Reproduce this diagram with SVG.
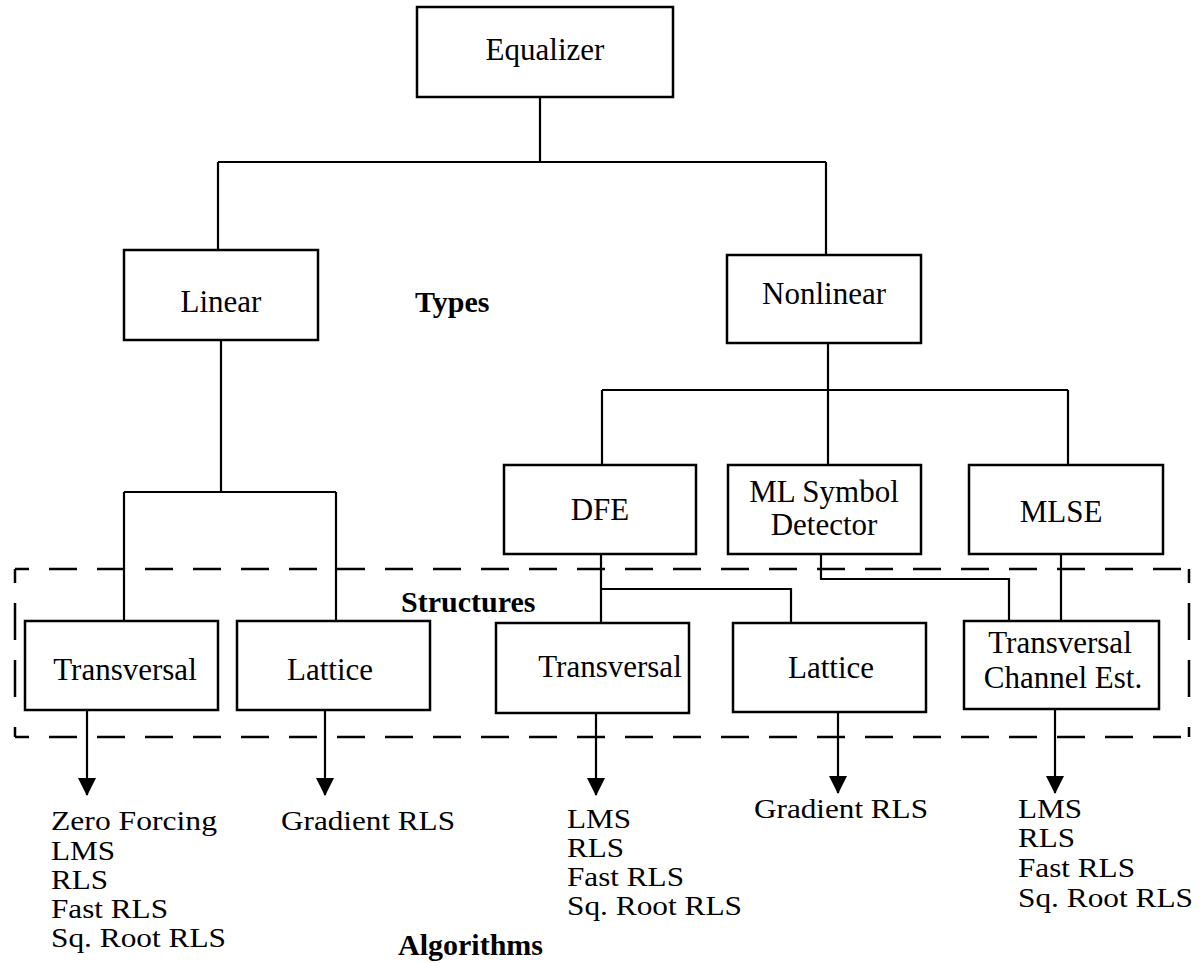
<svg xmlns="http://www.w3.org/2000/svg" width="1202" height="963" viewBox="0 0 1202 963">
<defs>
<style>
.box{fill:#fff;stroke:#000;stroke-width:2.5}
.ln{fill:none;stroke:#000;stroke-width:2.2}
.dash{fill:none;stroke:#000;stroke-width:2.5}
text{font-family:"Liberation Serif","Times New Roman",serif;font-size:31px;fill:#000}
.c{text-anchor:middle}
.b{font-weight:bold;font-size:30px}
.a{font-size:27px}
</style>
<marker id="arr" markerUnits="userSpaceOnUse" markerWidth="18" markerHeight="18" viewBox="0 0 18 18" refX="17" refY="9" orient="auto">
<path d="M0,0 L18,9 L0,18 Z" fill="#000"/>
</marker>
</defs>
<rect width="1202" height="963" fill="#fff"/>
<g id="connectors">
<path class="ln" d="M540,97 V162 M218,162 H826 M218,162 V250 M826,162 V255"/>
<path class="ln" d="M221,340 V492 M124,492 H336 M124,492 V621 M336,492 V621"/>
<path class="ln" d="M828,343 V465 M602,390 H1068 M602,390 V465 M1068,390 V465"/>
<path class="ln" d="M601,554 V623 M601,589 H791 V623"/>
<path class="ln" d="M821,554 V579 H1009 V621"/>
<path class="ln" d="M1061,554 V621"/>
<g>
<line class="ln" x1="87" y1="710" x2="87" y2="795" marker-end="url(#arr)"/>
<line class="ln" x1="325" y1="710" x2="325" y2="795" marker-end="url(#arr)"/>
<line class="ln" x1="596" y1="713" x2="596" y2="795" marker-end="url(#arr)"/>
<line class="ln" x1="838" y1="712" x2="838" y2="793" marker-end="url(#arr)"/>
<line class="ln" x1="1055" y1="709" x2="1055" y2="793" marker-end="url(#arr)"/>
</g>
</g>
<g id="structures-frame">
<path class="dash" d="M15,569 H1189" stroke-dasharray="28 20" stroke-dashoffset="14"/>
<path class="dash" d="M15,737 H1189" stroke-dasharray="28 20" stroke-dashoffset="14"/>
<path class="dash" d="M15,569 V737" stroke-dasharray="14 20 37 20 37 30 20"/>
<path class="dash" d="M1189,569 V737" stroke-dasharray="14 20 37 20 37 30 20"/>
</g>
<g id="equalizer"><rect class="box" x="417" y="7" width="256" height="90"/><text class="c" x="545" y="60">Equalizer</text></g>
<g id="linear"><rect class="box" x="124" y="250" width="194" height="90"/><text class="c" x="221" y="312">Linear</text></g>
<g id="types"><text class="b" x="415" y="312">Types</text></g>
<g id="nonlinear"><rect class="box" x="727" y="255" width="194" height="88"/><text class="c" x="824" y="304">Nonlinear</text></g>
<g id="dfe"><rect class="box" x="504" y="465" width="192" height="89"/><text class="c" x="600" y="520">DFE</text></g>
<g id="ml-symbol"><rect class="box" x="728" y="465" width="193" height="89"/><text class="c" x="824" y="502">ML Symbol</text><text class="c" x="824" y="535">Detector</text></g>
<g id="mlse"><rect class="box" x="969" y="465" width="194" height="89"/><text class="c" x="1061" y="522">MLSE</text></g>
<g id="structures-label"><text class="b" x="401" y="612">Structures</text></g>
<g id="lin-transversal"><rect class="box" x="25" y="621" width="193" height="89"/><text class="c" x="125" y="680">Transversal</text></g>
<g id="lin-lattice"><rect class="box" x="237" y="621" width="193" height="89"/><text class="c" x="330" y="680">Lattice</text></g>
<g id="dfe-transversal"><rect class="box" x="496" y="623" width="193" height="90"/><text class="c" x="610" y="677">Transversal</text></g>
<g id="dfe-lattice"><rect class="box" x="733" y="623" width="193" height="89"/><text class="c" x="831" y="678">Lattice</text></g>
<g id="channel-est"><rect class="box" x="964" y="621" width="195" height="88"/><text class="c" x="1060" y="653">Transversal</text><text class="c" x="1063" y="688">Channel Est.</text></g>
<g id="alg-lin-transversal"><text class="a" x="51" y="830" textLength="166" lengthAdjust="spacingAndGlyphs">Zero Forcing</text><text class="a" x="51" y="860" textLength="64" lengthAdjust="spacingAndGlyphs">LMS</text><text class="a" x="51" y="889" textLength="57" lengthAdjust="spacingAndGlyphs">RLS</text><text class="a" x="51" y="918" textLength="117" lengthAdjust="spacingAndGlyphs">Fast RLS</text><text class="a" x="51" y="947" textLength="175" lengthAdjust="spacingAndGlyphs">Sq. Root RLS</text></g>
<g id="alg-lin-lattice"><text class="a" x="281" y="830" textLength="174" lengthAdjust="spacingAndGlyphs">Gradient RLS</text></g>
<g id="alg-dfe-transversal"><text class="a" x="567" y="828" textLength="64" lengthAdjust="spacingAndGlyphs">LMS</text><text class="a" x="567" y="857" textLength="57" lengthAdjust="spacingAndGlyphs">RLS</text><text class="a" x="567" y="886" textLength="117" lengthAdjust="spacingAndGlyphs">Fast RLS</text><text class="a" x="567" y="915" textLength="175" lengthAdjust="spacingAndGlyphs">Sq. Root RLS</text></g>
<g id="alg-dfe-lattice"><text class="a" x="754" y="818" textLength="174" lengthAdjust="spacingAndGlyphs">Gradient RLS</text></g>
<g id="alg-channel-est"><text class="a" x="1018" y="818" textLength="64" lengthAdjust="spacingAndGlyphs">LMS</text><text class="a" x="1018" y="847" textLength="57" lengthAdjust="spacingAndGlyphs">RLS</text><text class="a" x="1018" y="877" textLength="117" lengthAdjust="spacingAndGlyphs">Fast RLS</text><text class="a" x="1018" y="907" textLength="175" lengthAdjust="spacingAndGlyphs">Sq. Root RLS</text></g>
<g id="algorithms-label"><text class="b" x="398" y="955">Algorithms</text></g>
</svg>
